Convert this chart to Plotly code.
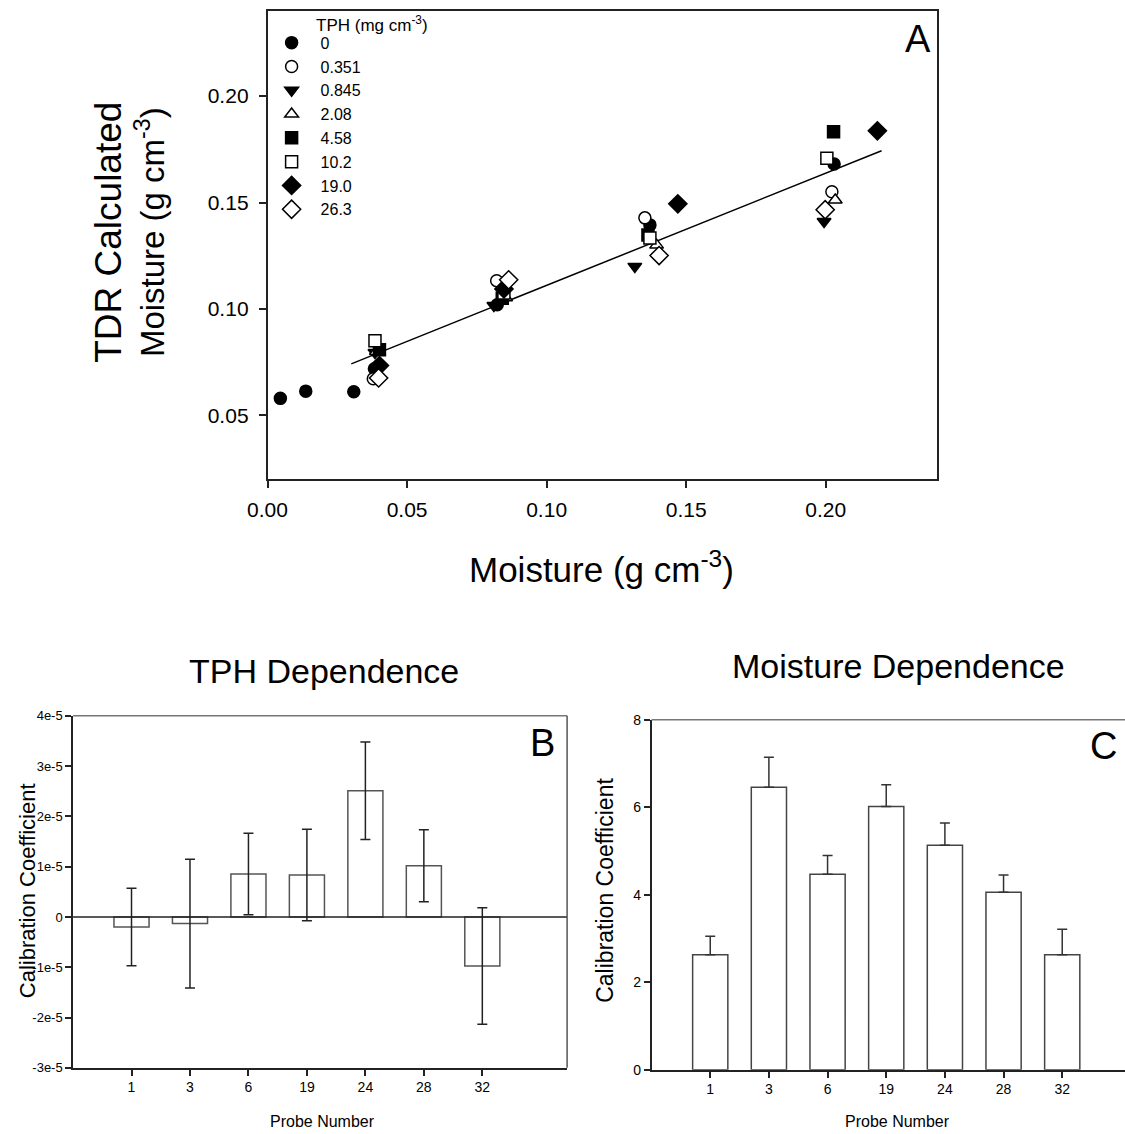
import plotly.graph_objects as go

FONT = "Liberation Sans, Arial, sans-serif"

# ---------------- Panel A data ----------------
tph_levels = ["0", "0.351", "0.845", "2.08", "4.58", "10.2", "19.0", "26.3"]

x_tph0 = [0.0046, 0.0137, 0.0309, 0.0383, 0.0823, 0.1370, 0.2030]
y_tph0 = [0.0580, 0.0614, 0.0611, 0.0719, 0.1020, 0.1395, 0.1681]
x_tph0351 = [0.0379, 0.0821, 0.1352, 0.2022]
y_tph0351 = [0.0672, 0.1133, 0.1428, 0.1551]
x_tph0845 = [0.0385, 0.0811, 0.1316, 0.1994]
y_tph0845 = [0.0795, 0.1016, 0.1200, 0.1411]
x_tph208 = [0.0390, 0.0853, 0.1394, 0.2034]
y_tph208 = [0.0800, 0.1053, 0.1300, 0.1512]
x_tph458 = [0.0401, 0.0841, 0.1363, 0.2028]
y_tph458 = [0.0808, 0.1050, 0.1348, 0.1833]
x_tph102 = [0.0385, 0.0847, 0.1370, 0.2004]
y_tph102 = [0.0851, 0.1075, 0.1333, 0.1708]
x_tph190 = [0.0401, 0.0847, 0.1470, 0.2185]
y_tph190 = [0.0734, 0.1094, 0.1494, 0.1837]
x_tph263 = [0.0398, 0.0864, 0.1403, 0.1998]
y_tph263 = [0.0676, 0.1137, 0.1251, 0.1466]

fit_x = [0.0300, 0.2200]
fit_slope = 0.527
fit_intercept = 0.0584

# ---------------- Panel B / C data ----------------
probes = ["1", "3", "6", "19", "24", "28", "32"]
tph_coef = [-0.20e-5, -0.13e-5, 0.857e-5, 0.837e-5, 2.51e-5, 1.02e-5, -0.975e-5]
tph_err = [0.77e-5, 1.28e-5, 0.81e-5, 0.91e-5, 0.97e-5, 0.715e-5, 1.16e-5]
moist_coef = [2.63, 6.46, 4.47, 6.02, 5.13, 4.06, 2.63]
moist_err = [0.42, 0.685, 0.426, 0.495, 0.51, 0.39, 0.58]

series = [
    (x_tph0, y_tph0, "circle", "black"),
    (x_tph0351, y_tph0351, "circle", "white"),
    (x_tph0845, y_tph0845, "triangle-down", "black"),
    (x_tph208, y_tph208, "triangle-up", "white"),
    (x_tph458, y_tph458, "square", "black"),
    (x_tph102, y_tph102, "square", "white"),
    (x_tph190, y_tph190, "diamond", "black"),
    (x_tph263, y_tph263, "diamond", "white"),
]

fig = go.Figure()

fit_y = [fit_intercept + fit_slope * v for v in fit_x]
fig.add_trace(go.Scatter(x=fit_x, y=fit_y, mode="lines", line=dict(color="black", width=1.5),
                         showlegend=False, hoverinfo="skip", xaxis="x", yaxis="y"))

for (xs, ys, sym, col), name in zip(series, tph_levels):
    size = 14 if sym == "diamond" else 12
    fig.add_trace(go.Scatter(
        x=xs, y=ys, mode="markers", name=name, xaxis="x", yaxis="y",
        marker=dict(symbol=sym, color=col, size=size, line=dict(color="black", width=1.5)),
    ))

pos = list(range(1, len(probes) + 1))

fig.add_trace(go.Bar(
    x=pos, y=tph_coef, xaxis="x2", yaxis="y2", width=0.6, showlegend=False,
    marker=dict(color="white", line=dict(color="#555", width=1.5)),
    error_y=dict(type="data", array=tph_err, visible=True, color="#222", thickness=1.5, width=5),
))
fig.add_trace(go.Bar(
    x=pos, y=moist_coef, xaxis="x3", yaxis="y3", width=0.6, showlegend=False,
    marker=dict(color="white", line=dict(color="#444", width=1.5)),
    error_y=dict(type="data", symmetric=False, array=moist_err, arrayminus=[0] * len(moist_err),
                 visible=True, color="#333", thickness=1.5, width=5),
))

W, H = 1125, 1134
def dx(a, b):
    return [a / W, b / W]
def dy(top, bottom):
    return [1 - bottom / H, 1 - top / H]

axis_common = dict(showgrid=False, zeroline=False, linecolor="#222", linewidth=1.5,
                   ticks="outside", tickcolor="#222", tickwidth=1.5, showline=True)

fig.update_layout(
    width=W, height=H, margin=dict(l=0, r=0, t=0, b=0),
    paper_bgcolor="white", plot_bgcolor="white",
    font=dict(family=FONT, color="black"),
    barmode="group",
    xaxis=dict(domain=dx(252, 934), range=[0, 0.24], tickvals=[0, 0.05, 0.10, 0.15, 0.20],
               tickformat=".2f", mirror=True, ticklen=7, tickfont=dict(size=21),
               ticklabelstandoff=4, **axis_common),
    yaxis=dict(domain=dy(3, 478), range=[0.02, 0.24], tickvals=[0.05, 0.10, 0.15, 0.20],
               tickformat=".2f", mirror=True, ticklen=7, tickfont=dict(size=21),
               ticklabelstandoff=6, **axis_common),
    xaxis2=dict(domain=dx(54, 557), range=[0, 8.45], tickvals=pos, ticktext=probes,
                ticklen=6, tickfont=dict(size=14), anchor="y2", **axis_common),
    yaxis2=dict(domain=dy(718, 1075), range=[-3e-5, 4e-5],
                tickvals=[-3e-5, -2e-5, -1e-5, 0, 1e-5, 2e-5, 3e-5, 4e-5],
                ticktext=["-3e-5", "-2e-5", "-1e-5", "0", "1e-5", "2e-5", "3e-5", "4e-5"],
                ticklen=6, tickfont=dict(size=13), anchor="x2", **axis_common),
    xaxis3=dict(domain=dx(643, 1125), range=[0, 8.07], tickvals=pos, ticktext=probes,
                ticklen=6, tickfont=dict(size=14), anchor="y3", **axis_common),
    yaxis3=dict(domain=dy(722, 1077), range=[0, 8], tickvals=[0, 2, 4, 6, 8],
                ticklen=6, tickfont=dict(size=14), anchor="x3", **axis_common),
    legend=dict(x=247 / W, y=1 - 18 / H, xanchor="left", yanchor="top", bgcolor="rgba(0,0,0,0)",
                font=dict(size=16, family=FONT), tracegroupgap=0, itemsizing="trace",
                itemwidth=48),
    shapes=[
        dict(type="line", xref="x2", yref="y2", x0=0, x1=8.45, y0=0, y1=0,
             line=dict(color="#222", width=1.5)),
        # lighter frame lines (top/right) of panels B and C
        dict(type="line", xref="x2 domain", yref="y2 domain", x0=0, x1=1, y0=1, y1=1,
             line=dict(color="#777", width=1.5)),
        dict(type="line", xref="x2 domain", yref="y2 domain", x0=1, x1=1, y0=0, y1=1,
             line=dict(color="#555", width=1.5)),
        dict(type="line", xref="x3 domain", yref="y3 domain", x0=0, x1=1, y0=1, y1=1,
             line=dict(color="#777", width=1.5)),
    ],
)

ann = [
    dict(text="TPH (mg cm<sup>-3</sup>)", x=299 / W, y=1 - 16 / H, font=dict(size=17), xanchor="left"),
    dict(text="A", x=914 / W, y=1 - 31 / H, font=dict(size=38)),
    dict(text="B", x=532 / W, y=1 - 746 / H, font=dict(size=38)),
    dict(text="C", x=1103 / W, y=1 - 749 / H, font=dict(size=38)),
    dict(text="Moisture (g cm<sup>-3</sup>)", x=592 / W, y=1 - 567 / H, font=dict(size=35)),
    dict(text="<span style='font-size:37px'>TDR Calculated</span><br>Moisture (g cm<sup>-3</sup>)",
         x=112 / W, y=1 - 228 / H, font=dict(size=33), textangle=-90),
    dict(text="TPH Dependence", x=309 / W, y=1 - 672 / H, font=dict(size=34)),
    dict(text="Moisture Dependence", x=894 / W, y=1 - 667 / H, font=dict(size=34)),
    dict(text="Calibration Coefficient", x=7 / W, y=1 - 895 / H, font=dict(size=22), textangle=-90),
    dict(text="Calibration Coefficient", x=596 / W, y=1 - 895 / H, font=dict(size=23), textangle=-90),
    dict(text="Probe Number", x=308 / W, y=1 - 1129 / H, font=dict(size=16)),
    dict(text="Probe Number", x=893 / W, y=1 - 1129 / H, font=dict(size=16)),
]
for a in ann:
    a.update(xref="paper", yref="paper", showarrow=False)
    a.setdefault("xanchor", "center")
    a.setdefault("yanchor", "middle")
fig.update_layout(annotations=ann)

fig.write_html("out.html")
